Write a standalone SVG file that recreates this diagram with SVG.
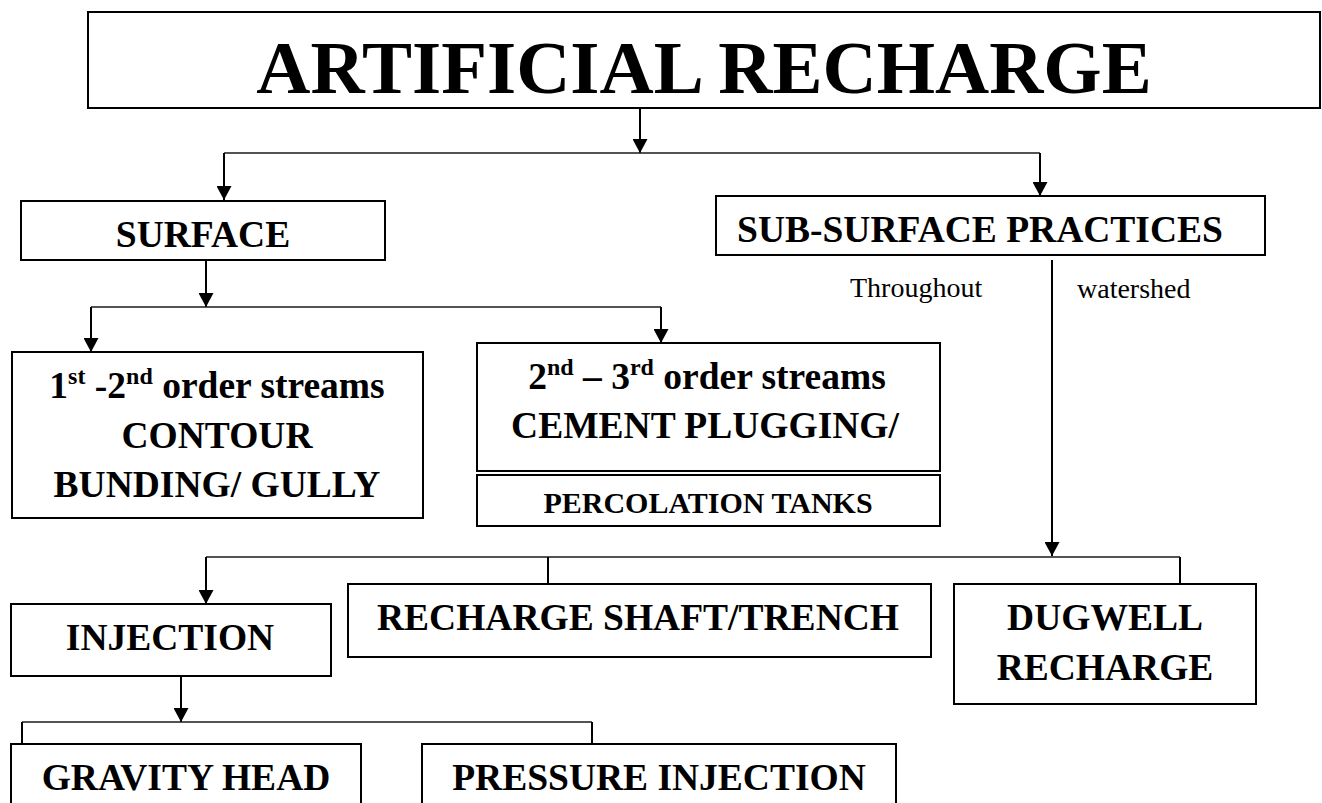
<svg xmlns="http://www.w3.org/2000/svg" width="1322" height="803" viewBox="0 0 1322 803">
  <style>
    .box { fill: #ffffff; stroke: #000000; stroke-width: 2; }
    .t { font-family: "Liberation Serif", "Times New Roman", serif; font-weight: bold; font-size: 37.5px; fill: #000; text-anchor: middle; }
    .title { font-size: 75px; }
    .small { font-size: 30px; }
    .reg { font-family: "Liberation Serif", "Times New Roman", serif; font-weight: normal; font-size: 28px; fill: #000; }
    .c { fill: none; stroke: #000; stroke-width: 2; }
    .h { fill: none; stroke: #1a1a1a; stroke-width: 1.6; }
  </style>
  <defs>
    <marker id="arr" viewBox="0 0 14 15" refX="14" refY="7.5" markerWidth="14" markerHeight="15" markerUnits="userSpaceOnUse" orient="auto">
      <path d="M0,0 L14,7.5 L0,15 Z" fill="#000"/>
    </marker>
  </defs>
  <rect width="1322" height="803" fill="#ffffff"/>

  <g id="connectors">
    <line class="c" x1="640" y1="108" x2="640" y2="153" marker-end="url(#arr)"/>
    <line class="h" x1="224" y1="153" x2="1040" y2="153"/>
    <line class="c" x1="224" y1="153" x2="224" y2="200" marker-end="url(#arr)"/>
    <line class="c" x1="1040" y1="153" x2="1040" y2="196" marker-end="url(#arr)"/>

    <line class="c" x1="206" y1="260" x2="206" y2="307" marker-end="url(#arr)"/>
    <line class="h" x1="91" y1="307" x2="661" y2="307"/>
    <line class="c" x1="91" y1="307" x2="91" y2="352" marker-end="url(#arr)"/>
    <line class="c" x1="661" y1="307" x2="661" y2="343" marker-end="url(#arr)"/>

    <line class="c" x1="1052" y1="260" x2="1052" y2="556" marker-end="url(#arr)"/>
    <line class="h" x1="206" y1="557" x2="1180" y2="557"/>
    <line class="c" x1="206" y1="557" x2="206" y2="604" marker-end="url(#arr)"/>
    <line class="c" x1="548" y1="557" x2="548" y2="584"/>
    <line class="c" x1="1180" y1="557" x2="1180" y2="584"/>

    <line class="c" x1="181" y1="676" x2="181" y2="722" marker-end="url(#arr)"/>
    <line class="h" x1="22" y1="722" x2="592" y2="722"/>
    <line class="c" x1="22" y1="722" x2="22" y2="744"/>
    <line class="c" x1="592" y1="722" x2="592" y2="744"/>
  </g>

  <g id="artificial-recharge">
    <rect class="box" x="88" y="12" width="1232" height="96"/>
    <text class="t title" x="704" y="93">ARTIFICIAL RECHARGE</text>
  </g>

  <g id="surface">
    <rect class="box" x="21" y="201" width="364" height="59"/>
    <text class="t" x="203" y="247">SURFACE</text>
  </g>

  <g id="sub-surface">
    <rect class="box" x="716" y="196" width="549" height="59"/>
    <text class="t" x="980" y="242">SUB-SURFACE PRACTICES</text>
  </g>

  <g id="labels">
    <text class="reg" x="850" y="297">Throughout</text>
    <text class="reg" x="1077" y="298">watershed</text>
  </g>

  <g id="order-1-2">
    <rect class="box" x="12" y="352" width="411" height="166"/>
    <text class="t" x="217" y="398">1<tspan font-size="24" dy="-14">st</tspan><tspan dy="14"> -2</tspan><tspan font-size="24" dy="-14">nd</tspan><tspan dy="14"> order streams</tspan></text>
    <text class="t" x="217" y="448">CONTOUR</text>
    <text class="t" x="217" y="497">BUNDING/ GULLY</text>
  </g>

  <g id="order-2-3">
    <rect class="box" x="477" y="343" width="463" height="128"/>
    <text class="t" x="707" y="389">2<tspan font-size="24" dy="-14">nd</tspan><tspan dy="14"> – 3</tspan><tspan font-size="24" dy="-14">rd</tspan><tspan dy="14"> order streams</tspan></text>
    <text class="t" x="705" y="438">CEMENT PLUGGING/</text>
  </g>

  <g id="percolation">
    <rect class="box" x="477" y="475" width="463" height="51"/>
    <text class="t small" x="708" y="513">PERCOLATION TANKS</text>
  </g>

  <g id="injection">
    <rect class="box" x="11" y="604" width="320" height="72"/>
    <text class="t" x="170" y="650">INJECTION</text>
  </g>

  <g id="recharge-shaft">
    <rect class="box" x="348" y="584" width="583" height="73"/>
    <text class="t" x="638" y="630">RECHARGE SHAFT/TRENCH</text>
  </g>

  <g id="dugwell">
    <rect class="box" x="954" y="584" width="302" height="120"/>
    <text class="t" x="1105" y="630">DUGWELL</text>
    <text class="t" x="1105" y="680">RECHARGE</text>
  </g>

  <g id="gravity-head">
    <rect class="box" x="11" y="744" width="350" height="70"/>
    <text class="t" x="186" y="790">GRAVITY HEAD</text>
  </g>

  <g id="pressure-injection">
    <rect class="box" x="422" y="744" width="474" height="70"/>
    <text class="t" x="659" y="790">PRESSURE INJECTION</text>
  </g>
</svg>
